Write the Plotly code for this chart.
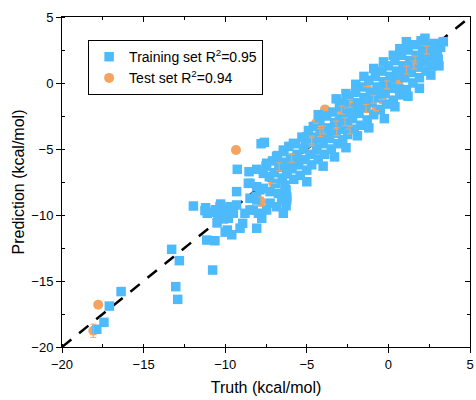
# Прогноз против истинных значений (kcal/mol): обучающая и тестовая выборки

import plotly.graph_objects as go

# обучающая выборка — истинные значения (ось x)
train_truth = [
    -17.87, -17.43, -17.1, -16.38, -13.28, -12.81, -13.03, -12.91, -10.77, -11.95,
    -11.24, -11.1, -11.13, -10.63, -10.32, -10.22, -10.28, -9.81, -9.6, -9.87,
    -9.3, -9.09, -8.93, -8.07, -9.71, -9.5, -9.3, -8.79, -8.48, -8.48,
    -8.07, -7.97, -7.76, -7.46, -7.25, -6.85, -6.44, -6.23, -6.34, -8.58,
    -8.07, -7.66, -7.25, -6.74, -6.54, -11.2, -10.9, -10.6, -10.45, -10.1,
    -9.9, -10.5, -10.0,
    -9.26, -8.54, -8.07, -7.46, -7.66, -6.85, -6.44, -5.82, -7.8, -7.6,
    -5.62, -6.23, -5.0, -4.39, -5.0, -6.27, -6.23, -6.27, -7.87, -8.48,
    -8.11, -8.28,
    -7.5, -7.3, -7.1, -7.0, -6.9, -6.8, -6.6, -6.5, -6.4, -6.3,
    -6.2, -6.1, -6.0, -5.9, -5.8, -5.7, -5.6, -5.5, -5.4, -5.3,
    -5.2, -5.1, -5.0, -4.9, -4.8, -4.8, -4.7,
    -4.6, -4.5, -4.4, -4.3, -4.2, -4.1, -4.0, -3.9, -3.8, -3.7,
    -3.6, -3.5, -3.4, -3.3, -3.2, -3.1, -3.0, -2.9, -2.9, -2.8,
    -2.7, -2.6, -2.5, -2.5,
    -2.4, -2.3, -2.2, -2.1, -2.0, -1.9, -1.8, -1.7, -1.6, -1.5,
    -1.4, -1.3, -1.2, -1.1, -1.0, -0.9, -0.8, -0.7, -0.6, -0.5,
    -0.4, -0.3, -0.2, -0.1,
    0.0, 0.1, 0.2, 0.3, 0.4, 0.5, 0.65, 0.7, 0.8, 0.9,
    1.0, 1.1, 1.1, 1.2, 1.3, 1.4, 1.5, 1.6, 1.7, 1.8,
    1.9, 2.0, 2.1, 2.2, 2.3, 2.24, 2.5, 2.6, 2.7, 2.8,
    3.0, 3.05, 3.2, 3.36, 2.96,
    -6.7, -6.1, -5.6, -5.1, -4.6, -4.2, -3.8, -3.4, -3.0, -2.6,
    -2.2, -1.8, -1.4, -1.0, -0.6, -0.2, 0.2, 0.6, 1.0, 1.4,
    1.8, 2.2, 2.6,
    -4.3, -3.2, -2.6, -2.0, -1.5, -0.9, -0.3, 0.3, 0.7,
    -4.0, -3.3, -2.6, -1.9, -1.2, -0.25, 0.4, 1.2, 1.9, 2.6,
    3.1,
]

# обучающая выборка — прогноз (ось y)
train_pred = [
    -18.66, -18.13, -16.9, -15.8, -12.6, -13.46, -15.43, -16.39, -14.17, -9.32,
    -9.67, -9.87, -11.9, -11.95, -9.37, -10.0, -9.17, -10.25, -11.5, -11.14,
    -8.23, -11.0, -10.63, -11.0, -9.37, -9.87, -9.24, -9.87, -9.62, -8.73,
    -8.86, -9.87, -10.25, -9.62, -9.1, -9.37, -9.87, -8.6, -7.73, -7.6,
    -7.86, -7.98, -8.23, -8.36, -8.86, -9.45, -9.8, -9.6, -10.2, -10.3,
    -9.6, -10.6, -11.3,
    -6.54, -6.72, -6.54, -6.08, -6.85, -5.58, -5.08, -4.57, -4.6, -4.5,
    -6.08, -6.85, -4.07, -5.08, -7.48, -8.1, -8.86, -9.3, -8.1, -7.6,
    -8.6, -9.62,
    -6.3, -7.1, -5.9, -6.8, -7.6, -5.5, -6.4, -7.2, -5.2, -6.0,
    -6.9, -4.8, -5.7, -6.5, -7.3, -4.6, -5.4, -6.2, -7.0, -4.1,
    -5.0, -5.8, -6.6, -3.6, -4.5, -5.4, -6.2,
    -3.3, -4.1, -5.0, -5.8, -2.9, -3.7, -4.6, -5.4, -2.5, -3.4,
    -4.2, -5.0, -2.2, -3.0, -3.8, -4.6, -1.8, -2.7, -3.5, -4.3,
    -1.5, -2.3, -3.1, -3.9,
    -1.0, -1.9, -2.7, -3.5, -0.7, -1.5, -2.3, -3.2, -0.3, -1.1,
    -1.9, -2.8, 0.2, -0.7, -1.5, -2.4, 0.5, -0.3, -1.1, -2.0,
    0.9, 0.1, -0.8, -1.6,
    1.3, 0.5, -0.4, -1.3, 1.7, 0.9, -0.45, -0.9, 2.1, 1.3,
    0.4, -0.5, 3.13, 2.5, 1.7, 0.8, 0.0, 2.9, 2.1, 1.2,
    0.4, 3.2, 2.5, 1.6, 0.9, 3.39, 2.8, 2.0, 1.3, 3.0,
    2.4, 1.8, 2.7, 3.13, 1.99,
    -6.1, -6.3, -5.9, -4.6, -4.5, -4.2, -3.9, -3.5, -2.9, -2.6,
    -2.1, -1.7, -1.4, -0.9, -0.5, -0.3, 0.3, 0.6, 1.1, 1.4,
    1.9, 2.2, 2.5,
    -2.4, -1.2, -0.8, -0.1, 0.5, 1.1, 1.6, 2.1, 2.6,
    -6.3, -5.6, -4.9, -4.0, -3.4, -2.7, -1.8, -1.0, -0.4, 0.6,
    1.3,
]

# тестовая выборка: истинные значения, прогноз и погрешность
test_truth = [
    -18.08, -17.78, -9.34, -7.81, -7.05, -6.69, -5.93, -4.7, -4.19, -3.99,
    -4.44, -3.89, -3.21, -3.17, -2.86, -2.66, -2.35, -2.35, -1.37, -1.33,
    -0.92, -0.76, -0.41, -0.1, 0.6, 1.12, 1.57, 1.63, 2.35, -4.7,
]
test_pred = [
    -18.77, -16.8, -5.08, -8.99, -7.6, -6.35, -5.7, -4.32, -3.76, -3.56,
    -3.05, -2.0, -3.18, -3.69, -2.05, -2.93, -1.54, -3.56, -1.92, -0.28,
    -1.23, -2.1, -1.24, -0.15, 0.02, 0.98, 1.36, 1.74, 2.5, -4.45,
]
test_err = [
    0.5, 0.0, 0.0, 0.35, 0.0, 0.3, 0.3, 0.3, 0.3, 0.3,
    0.0, 0.0, 0.3, 0.3, 0.3, 0.3, 0.3, 0.3, 0.3, 0.0,
    0.3, 0.0, 0.0, 0.3, 0.0, 0.3, 0.3, 0.3, 0.3, 0.3,
]

# диагональ y = x
diag = [-20, 5]

blue = '#4DBAFB'
orange = '#F4A460'
font_family = 'Arial, Liberation Sans, sans-serif'

fig = go.Figure()

# пунктирная диагональ (под точками)
fig.add_trace(go.Scatter(
    x=diag, y=diag, mode='lines',
    line=dict(color='black', width=2.5, dash='12px,10px'),
    showlegend=False, hoverinfo='skip'
))

# тестовые точки (кружки) — под квадратами
fig.add_trace(go.Scatter(
    x=test_truth, y=test_pred, mode='markers',
    marker=dict(symbol='circle', size=10, color=orange),
    name='Test set R<sup>2</sup>=0.94',
    legendrank=2
))

# обучающая выборка (квадраты)
fig.add_trace(go.Scatter(
    x=train_truth, y=train_pred, mode='markers',
    marker=dict(symbol='square', size=9.5, color=blue),
    name='Training set R<sup>2</sup>=0.95',
    legendrank=1
))

# усы погрешностей тестовой выборки поверх всего
fig.add_trace(go.Scatter(
    x=test_truth, y=test_pred, mode='markers',
    marker=dict(size=10, color='rgba(0,0,0,0)'),
    error_y=dict(type='data', array=test_err, visible=True,
                 color=orange, thickness=1, width=3),
    showlegend=False, hoverinfo='skip'
))

# невидимый след для верхней/правой осей
fig.add_trace(go.Scatter(
    x=diag, y=diag, xaxis='x2', yaxis='y2', mode='lines',
    line=dict(width=0), showlegend=False, hoverinfo='skip'
))

axis_common = dict(
    range=[-20, 5], dtick=5, tick0=0, automargin=False,
    showline=True, linecolor='black', linewidth=1,
    showgrid=False, zeroline=False,
    tickcolor='black', ticklen=5, tickwidth=1,
    tickfont=dict(family=font_family, size=13, color='black'),
)
minor_ticks = dict(ticks='inside', dtick=2.5, ticklen=3, tickcolor='black')

fig.update_layout(
    width=476, height=400,
    margin=dict(l=62, r=6, t=17, b=53),
    paper_bgcolor='white', plot_bgcolor='white',
    font=dict(family=font_family, color='black'),
    xaxis=dict(
        **axis_common, ticks='outside', minor=minor_ticks,
        title=dict(text='Truth (kcal/mol)', font=dict(size=16), standoff=11),
    ),
    yaxis=dict(
        **axis_common, ticks='outside', minor=minor_ticks,
        title=dict(text='Prediction (kcal/mol)', font=dict(size=16), standoff=2),
    ),
    xaxis2=dict(
        **axis_common, ticks='inside', overlaying='x', side='top', anchor='y',
        showticklabels=False, minor=minor_ticks,
    ),
    yaxis2=dict(
        **axis_common, ticks='inside', overlaying='y', side='right', anchor='x',
        showticklabels=False, minor=minor_ticks,
    ),
    legend=dict(
        x=0.064, y=0.93, xanchor='left', yanchor='top',
        bordercolor='black', borderwidth=1, bgcolor='white',
        font=dict(family=font_family, size=14, color='black'),
        tracegroupgap=0,
    ),
    showlegend=True,
)

# убираем стандартный отступ страницы, чтобы график стоял в углу окна
fig.write_html(
    "out.html",
    config={'displayModeBar': False},
    post_script="document.body.style.margin='0';",
)
